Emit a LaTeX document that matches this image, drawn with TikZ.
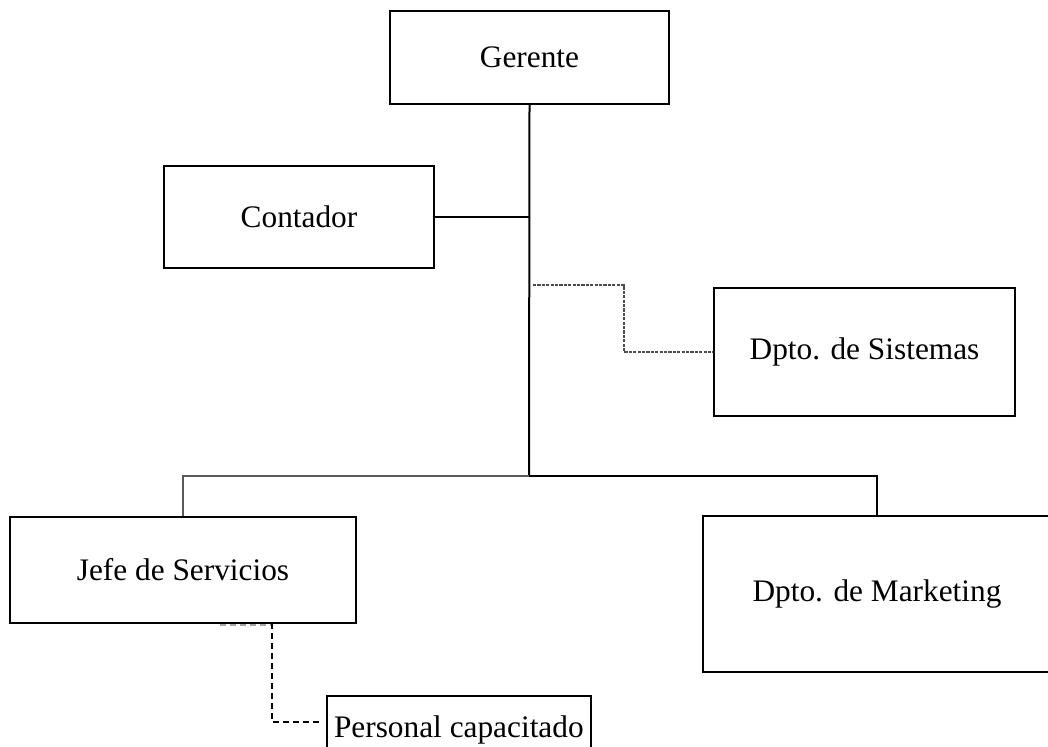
\documentclass[tikz,border=0pt]{standalone}
\usepackage{fontspec}
\setmainfont{Liberation Serif}
\usepackage{tikz}
\usetikzlibrary{positioning,calc}

\begin{document}
\begin{tikzpicture}[
    x=0.75pt, y=-0.75pt,
    caja/.style={
        draw=black,
        line width=1.5pt,
        inner sep=0pt,
        font=\fontsize{23.5}{28}\selectfont,
        align=center
    },
    gruesa/.style={
        line width=1.5pt,
        draw=black
    },
    delgada/.style={
        line width=0.8pt,
        draw=black!65
    },
    punteado/.style={
        line width=0.8pt,
        draw=black!70,
        dash pattern=on 2.4pt off 0.9pt
    },
    guiones/.style={
        line width=0.8pt,
        draw=black,
        dash pattern=on 4.5pt off 3pt
    }
]
    \useasboundingbox (0,0) rectangle (1048,746);

    \node[caja, minimum width=209.25pt, minimum height=69.75pt] (gerente) at (529.5, 57.5) {Gerente};
    \node[caja, minimum width=202.5pt, minimum height=76.5pt] (contador) at (299, 217) {Contador};
    \node[caja, minimum width=225.75pt, minimum height=96pt] (sistemas) at (864.5, 352) {Dpto. de Sistemas};
    \node[caja, minimum width=259.5pt, minimum height=79.5pt] (jefe) at (183, 570) {Jefe de Servicios};
    \node[caja, minimum width=261pt, minimum height=117pt] (marketing) at (877, 594) {Dpto. de Marketing};
    \node[caja, anchor=west, inner xsep=5.25pt, minimum height=50.5pt] (personal) at (326, 729.7) {Personal capacitado};

    \coordinate (nudo) at (529, 476);
    \coordinate (ramaS) at (533, 285);
    \coordinate (bajaJ) at (272, 623);
    \coordinate (llegaP) at (323, 722);

    \draw[gruesa] (gerente.south) -- (nudo);
    \draw[gruesa] (contador.east) -- (contador.east -| nudo);
    \draw[punteado] (ramaS) -- ++(91,0) |- (sistemas.west);
    \draw[delgada] (nudo) -| (jefe.north);
    \draw[gruesa] (nudo) -| (marketing.north);
    \draw[guiones, draw=black!35] (220, 625) -- (bajaJ |- 0, 625);
    \draw[guiones] (bajaJ) |- (llegaP);
\end{tikzpicture}
\end{document}
